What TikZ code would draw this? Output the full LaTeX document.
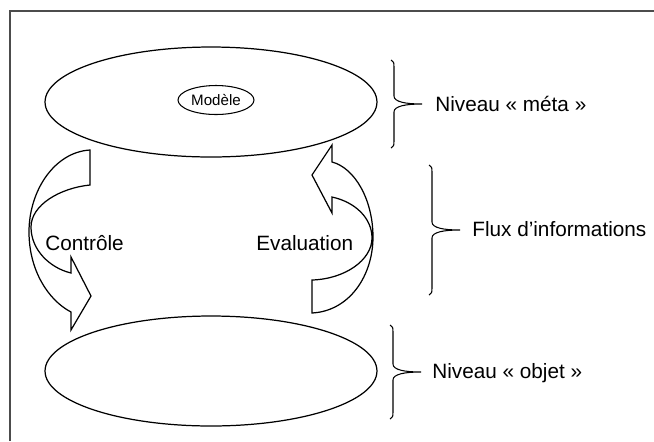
\documentclass[tikz,border=0pt]{standalone}
\usepackage{fontspec}
\setmainfont{Liberation Sans}
\usetikzlibrary{shapes.geometric}
\tikzstyle{niveau}=[ellipse,draw,line width=0.7pt,minimum width=6.64cm,minimum height=2.2cm,inner sep=0pt]
\tikzstyle{etiquette}=[anchor=west,inner sep=0pt,font=\fontsize{11.8}{14}\selectfont]
\tikzstyle{fleche}=[draw,line width=0.7pt,line join=miter]
\tikzset{pics/accolade/.style={code={
  \draw[line width=0.6pt] (-3,-#1) .. controls (0,-#1+1) and (0,-#1+3) .. (0,-#1+8) -- (0,-8)
    .. controls (0,-2) and (12,0) .. (28,0) .. controls (12,0) and (0,2) .. (0,8)
    -- (0,#1-8) .. controls (0,#1-3) and (0,#1-1) .. (-3,#1);
}}}

\begin{document}
\begin{tikzpicture}[x=0.02cm,y=-0.02cm]
  \useasboundingbox (0,0) rectangle (654,441);
  % cadre
  \draw[black!70,line width=0.8pt] (10,441) -- (10,11) -- (654,11);
  % niveaux
  \node[niveau] (meta) at (211,102) {};
  \node[ellipse,draw,line width=0.6pt,minimum width=1.52cm,minimum height=0.58cm,inner sep=0pt,
        font=\fontsize{8.6}{10}\selectfont] (modele) at (216,100) {Modèle};
  \node[niveau] (objet) at (211,371) {};
  % fleche controle
  \path[fleche] (90,150) -- (90,185)
    .. controls (60,188) and (31,205) .. (31,227)
    .. controls (31,250) and (50,268) .. (71,273)
    -- (71,257) -- (91,296) -- (71,330) -- (71,312)
    .. controls (48,300) and (29,270) .. (29,232)
    .. controls (29,190) and (55,152) .. (90,150) -- cycle;
  % fleche evaluation
  \path[fleche] (312,280) -- (312,313)
    .. controls (350,311) and (373,275) .. (373,237)
    .. controls (373,200) and (355,168) .. (332,162)
    -- (332,145) -- (312,175) -- (332,213) -- (332,197)
    .. controls (355,202) and (372,218) .. (372,238)
    .. controls (372,260) and (345,279) .. (312,280) -- cycle;
  \node[etiquette] (controle) at (45,243) {Contrôle};
  \node[etiquette] (evaluation) at (256,243) {Evaluation};
  % accolades
  \pic at (394,104) {accolade=44};
  \pic at (432,230) {accolade=65};
  \pic at (393,372) {accolade=47};
  \node[etiquette] (metalabel) at (435,104) {Niveau « méta »};
  \node[etiquette] (fluxlabel) at (472,229) {Flux d’informations};
  \node[etiquette] (objetlabel) at (432,373) {Niveau « objet »};
\end{tikzpicture}
\end{document}
